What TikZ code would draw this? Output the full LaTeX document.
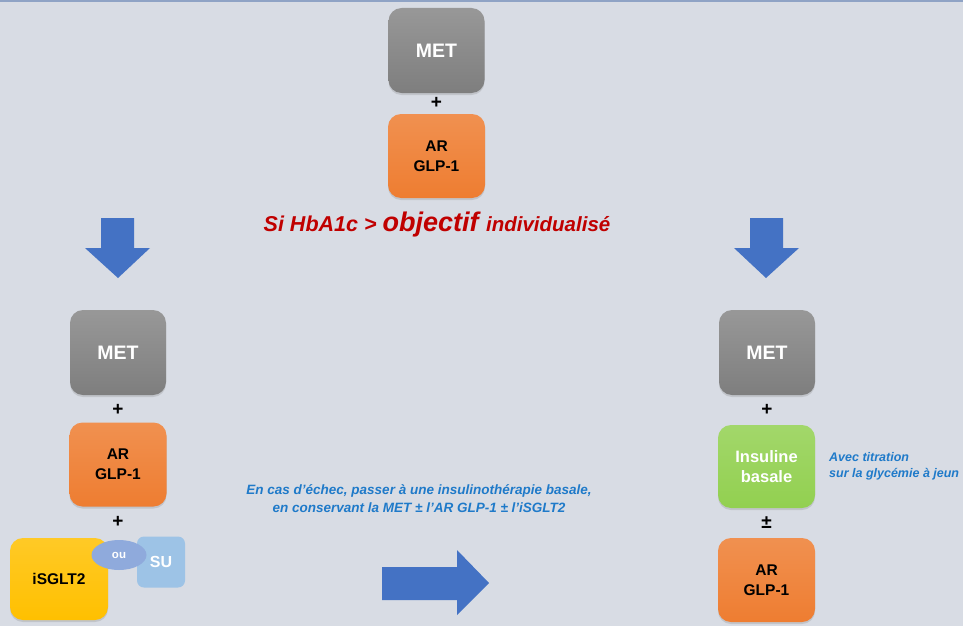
\documentclass[tikz,border=0pt]{standalone}
\usepackage{fontspec}
\setmainfont{Liberation Sans}
\usetikzlibrary{arrows.meta, calc, shadows, shapes.geometric}
\definecolor{bgcol}{HTML}{D8DCE4}
\definecolor{topline}{HTML}{8FA3C5}
\definecolor{metgray}{HTML}{7E7E7E}
\definecolor{glporange}{HTML}{EE7D31}
\definecolor{insgreen}{HTML}{92D050}
\definecolor{sglyellow}{HTML}{FFC000}
\definecolor{sublue}{HTML}{9DC3E6}
\definecolor{oublue}{HTML}{8FAADC}
\definecolor{arrowblue}{HTML}{4472C4}
\definecolor{titlered}{HTML}{C00000}
\definecolor{noteblue}{HTML}{1F7AC9}
\newcommand{\fsz}[2]{\fontsize{#1}{#2}\selectfont}

\begin{document}
\begin{tikzpicture}[x=1pt, y=-1pt, line cap=round, line join=round,
    drug/.style={rounded corners=13pt, align=center, font=\bfseries,
      inner sep=0pt, drop shadow={shadow xshift=0pt, shadow yshift=-2pt, opacity=0.25}},
    metbox/.style={drug, minimum width=96pt, minimum height=85pt,
      top color=metgray!80!white, bottom color=metgray, text=white, font=\bfseries\fsz{19.5}{22}},
    glpbox/.style={drug, minimum width=97pt, minimum height=84pt,
      top color=glporange!85!white, bottom color=glporange, font=\bfseries\fsz{15.5}{20}},
    insbox/.style={drug, minimum width=97pt, minimum height=83pt,
      top color=insgreen!85!white, bottom color=insgreen, text=white, font=\bfseries\fsz{16.5}{20}},
    sglbox/.style={drug, minimum width=98pt, minimum height=82pt,
      top color=sglyellow!85!white, bottom color=sglyellow, font=\bfseries\fsz{15.5}{18}},
    subox/.style={rounded corners=7pt, minimum width=48pt, minimum height=51pt,
      fill=sublue, text=white, font=\bfseries\fsz{16}{18}},
    oubox/.style={ellipse, minimum width=55pt, minimum height=30pt, inner sep=0pt,
      fill=oublue, text=white, font=\bfseries\fsz{11.5}{13}},
    plus/.style={font=\bfseries\fsz{19}{20}, inner sep=0pt},
    note/.style={text=noteblue, inner sep=0pt},
    bigarrow/.style={fill=arrowblue, draw=none}]

    % background and top rule
    \fill[bgcol] (0,0) rectangle (963,626);
    \useasboundingbox (0,0) rectangle (963,626);
    \draw[topline, line width=2pt, line cap=butt] (0,1) -- (963,1);

    % ===== Top: starting combination =====
    \node[metbox] (met0) at (436.5,50.5) {MET};
    \node[plus] (plus0) at (436.5,103) {+};
    \node[glpbox] (glp0) at (436.5,156) {AR\\GLP-1};
    \node[text=titlered, font=\bfseries\itshape, inner sep=0pt] (cond) at (437,225)
      {\fsz{21.5}{24}Si HbA1c > \fsz{27}{30}objectif \fsz{20.5}{24}individualisé};

    % ===== Down arrows =====
    \fill[bigarrow] (101,218) -- (134,218) -- (134,248) -- (150,248) -- (118,278)
      -- (85,248) -- (101,248) -- cycle;
    \fill[bigarrow] (750,218) -- (783,218) -- (783,248) -- (799,248) -- (766,278)
      -- (734,248) -- (750,248) -- cycle;

    % ===== Left: triple therapy =====
    \node[metbox] (met1) at (118,352.5) {MET};
    \node[plus] (plus1) at (118,410) {+};
    \node[glpbox] (glp1) at (118,464.5) {AR\\GLP-1};
    \node[plus] (plus2) at (118,522) {+};
    \node[subox] (su) at (161,562) {SU};
    \node[sglbox] (sglt) at (59,579) {iSGLT2};
    \node[oubox] (ou) at (119,555) {ou};

    % ===== Middle: failure note and arrow =====
    \node[note, align=center, font=\bfseries\itshape\fsz{13.5}{18}] (fail) at (419,499)
      {En cas d'échec, passer à une insulinothérapie basale,\\
       en conservant la MET ± l'AR GLP-1 ± l'iSGLT2};
    \fill[bigarrow] (382,567) -- (457,567) -- (457,550) -- (489,583) -- (457,615)
      -- (457,600) -- (382,600) -- cycle;

    % ===== Right: basal insulin =====
    \node[metbox] (met2) at (767,352.5) {MET};
    \node[plus] (plus3) at (767,410) {+};
    \node[insbox] (ins) at (766.5,466.5) {Insuline\\basale};
    \node[plus] (pm) at (766.5,523) {±};
    \node[glpbox] (glp2) at (766.5,580) {AR\\GLP-1};
    \node[note, align=left, anchor=west, font=\bfseries\itshape\fsz{12.5}{16}] (titr) at (829,466)
      {Avec titration\\sur la glycémie à jeun};

\end{tikzpicture}
\end{document}
